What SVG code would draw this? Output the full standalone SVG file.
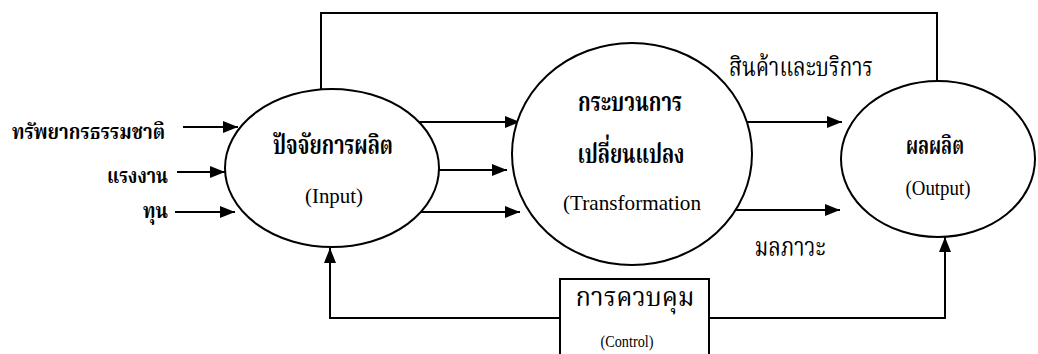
<svg xmlns="http://www.w3.org/2000/svg" width="1038" height="354" viewBox="0 0 1038 354">
<style>
.th{font-family:'Noto Serif Thai','Noto Sans Thai','Tlwg Typo','Loma','Liberation Serif','Noto Sans',serif;fill:#000}
.thb{font-weight:bold}
.en{font-family:'Liberation Serif','Times New Roman',serif;fill:#000}
.shape{fill:#fff;stroke:#000;stroke-width:2}
.conn{fill:none;stroke:#000;stroke-width:2}
</style>
<defs>
<marker id="arr" viewBox="0 0 15 12" refX="15" refY="6" markerWidth="15" markerHeight="12" markerUnits="userSpaceOnUse" orient="auto">
<path d="M0,0 L15,6 L0,12 Z" fill="#000"/>
</marker>
</defs>
<rect width="1038" height="354" fill="#fff"/>
<g id="connectors">
<path class="conn" d="M321,89 V13 H937 V81"/>
<path class="conn" d="M183,127 H238" marker-end="url(#arr)"/>
<path class="conn" d="M177,172 H225" marker-end="url(#arr)"/>
<path class="conn" d="M175,212 H235" marker-end="url(#arr)"/>
<path class="conn" d="M419,122 H520" marker-end="url(#arr)"/>
<path class="conn" d="M439,170 H507" marker-end="url(#arr)"/>
<path class="conn" d="M421,212 H520" marker-end="url(#arr)"/>
<path class="conn" d="M746,122 H842" marker-end="url(#arr)"/>
<path class="conn" d="M736,210 H840" marker-end="url(#arr)"/>
<path class="conn" d="M560,318 H330 V248" marker-end="url(#arr)"/>
<path class="conn" d="M709,318 H945 V237" marker-end="url(#arr)"/>
</g>
<g id="labels-in">
<text class="th thb" x="165" y="139" font-size="22" text-anchor="end" textLength="153" lengthAdjust="spacingAndGlyphs">ทรัพยากรธรรมชาติ</text>
<text class="th thb" x="168" y="183" font-size="22" text-anchor="end" textLength="61" lengthAdjust="spacingAndGlyphs">แรงงาน</text>
<text class="th thb" x="168" y="218" font-size="22" text-anchor="end" textLength="25" lengthAdjust="spacingAndGlyphs">ทุน</text>
</g>
<g id="node-input">
<ellipse class="shape" cx="332" cy="168" rx="107" ry="79"/>
<text class="th thb" x="333" y="154" font-size="27" text-anchor="middle" textLength="120" lengthAdjust="spacingAndGlyphs">ปัจจัยการผลิต</text>
<text class="en" x="334" y="203" font-size="20" text-anchor="middle" textLength="58" lengthAdjust="spacingAndGlyphs">(Input)</text>
</g>
<g id="node-transformation">
<ellipse class="shape" cx="632" cy="154" rx="120" ry="111"/>
<text class="th thb" x="630" y="111" font-size="27" text-anchor="middle" textLength="104" lengthAdjust="spacingAndGlyphs">กระบวนการ</text>
<text class="th thb" x="631" y="163" font-size="27" text-anchor="middle" textLength="107" lengthAdjust="spacingAndGlyphs">เปลี่ยนแปลง</text>
<text class="en" x="632" y="210" font-size="21" text-anchor="middle" textLength="138" lengthAdjust="spacingAndGlyphs">(Transformation</text>
</g>
<g id="node-output">
<ellipse class="shape" cx="938" cy="159" rx="97" ry="78"/>
<text class="th thb" x="935" y="154" font-size="25" text-anchor="middle" textLength="58" lengthAdjust="spacingAndGlyphs">ผลผลิต</text>
<text class="en" x="938" y="195" font-size="20" text-anchor="middle" textLength="65" lengthAdjust="spacingAndGlyphs">(Output)</text>
</g>
<g id="labels-out">
<text class="th" x="801" y="76" font-size="26" text-anchor="middle" textLength="144" lengthAdjust="spacingAndGlyphs">สินค้าและบริการ</text>
<text class="th" x="790" y="256" font-size="26" text-anchor="middle" textLength="71" lengthAdjust="spacingAndGlyphs">มลภาวะ</text>
</g>
<g id="node-control">
<rect class="shape" x="560" y="279" width="149" height="90"/>
<text class="th" x="635" y="306" font-size="26" text-anchor="middle" textLength="119" lengthAdjust="spacingAndGlyphs">การควบคุม</text>
<text class="en" x="627" y="347" font-size="16" text-anchor="middle" textLength="53" lengthAdjust="spacingAndGlyphs">(Control)</text>
</g>
</svg>
